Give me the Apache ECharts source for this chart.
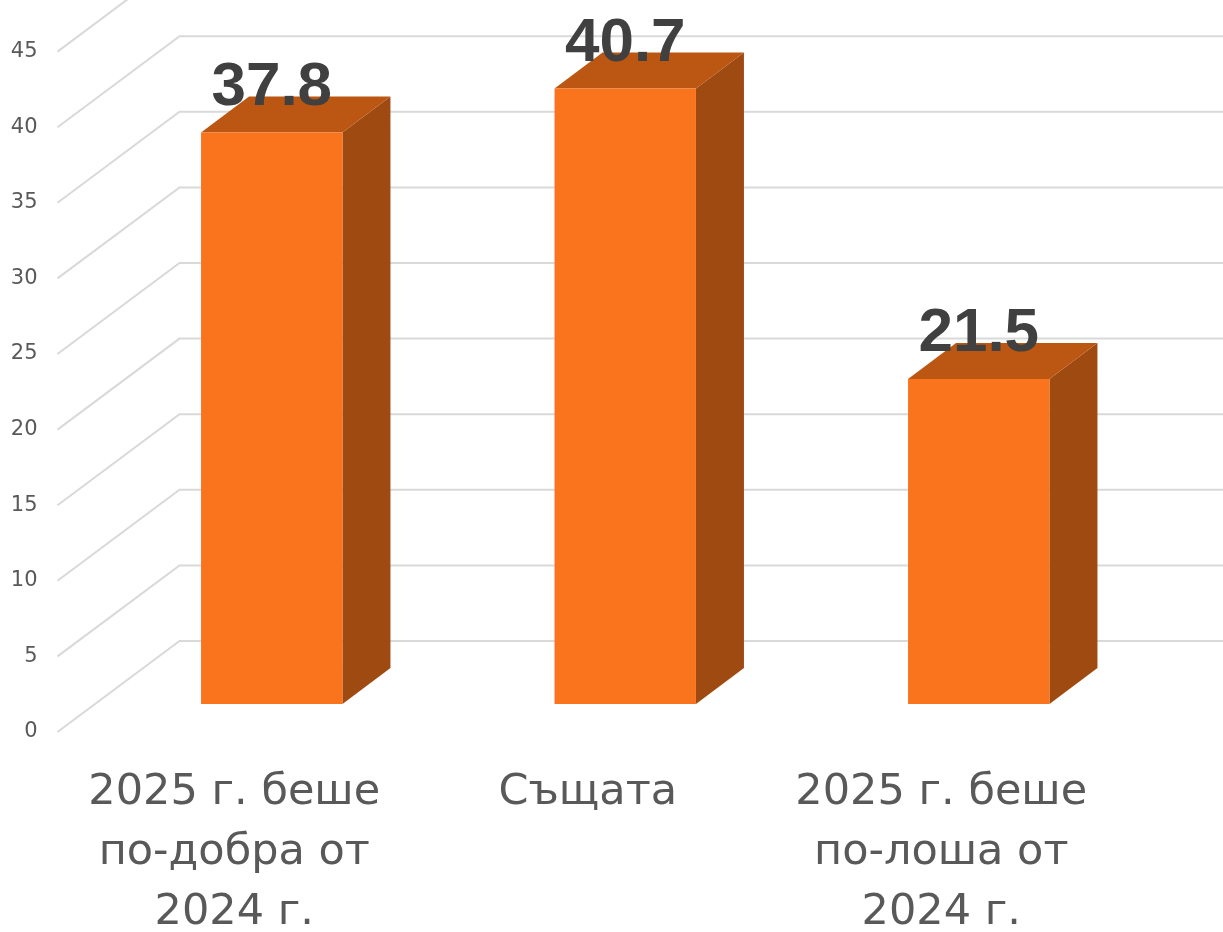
<!DOCTYPE html>
<html>
<head>
<meta charset="utf-8">
<script src="https://cdn.jsdelivr.net/npm/echarts@6/dist/echarts.min.js"></script>
<style>
html,body{margin:0;padding:0;background:#fff;overflow:hidden;}
#chart{width:1223px;height:932px;}
</style>
</head>
<body>
<div id="chart"></div>
<script>
var categories = ['2025 г. беше\nпо-добра от\n2024 г.', 'Същата', '2025 г. беше\nпо-лоша от\n2024 г.'];
var values = [37.8, 40.7, 21.5];
var yTicks = [0, 5, 10, 15, 20, 25, 30, 35, 40, 45];

var WALL_DX = 122, WALL_DY = -91;   // back wall offset from the front plane
var BAR_DX = 37.5, BAR_DY = -28;    // bar front face offset from front plane
var DEPTH_DX = 48, DEPTH_DY = -36;  // bar depth

var chart = echarts.init(document.getElementById('chart'), null, {renderer: 'canvas', width: 1223, height: 932});

var option = {
  animation: false,
  backgroundColor: '#ffffff',
  grid: {left: 57.5, right: 105, top: 51.6, bottom: 200, containLabel: false, outerBoundsMode: 'none'},
  xAxis: {
    type: 'category',
    data: categories,
    axisLine: {show: false},
    axisTick: {show: false},
    splitLine: {show: false},
    axisLabel: {
      interval: 0,
      margin: 31,
      color: '#595959',
      fontFamily: 'DejaVu Sans',
      fontSize: 43,
      lineHeight: 60,
      verticalAlign: 'top'
    }
  },
  yAxis: {
    type: 'value',
    min: 0,
    max: 45,
    interval: 5,
    axisLine: {show: false},
    axisTick: {show: false},
    splitLine: {show: false},
    axisLabel: {
      margin: 20,
      color: '#595959',
      fontFamily: 'DejaVu Sans',
      fontSize: 21
    }
  },
  series: [
    {
      type: 'custom',
      z: 1,
      silent: true,
      data: yTicks.map(function (v) { return [0, v]; }),
      renderItem: function (params, api) {
        var x0 = params.coordSys.x;
        var y = api.coord([0, api.value(1)])[1];
        return {
          type: 'polyline',
          shape: {points: [[x0, y], [x0 + WALL_DX, y + WALL_DY], [api.getWidth(), y + WALL_DY]]},
          style: {stroke: '#d9d9d9', lineWidth: 2, fill: null}
        };
      }
    },
    {
      type: 'custom',
      z: 2,
      data: values.map(function (v, i) { return [i, v]; }),
      renderItem: function (params, api) {
        var i = api.value(0), v = api.value(1);
        var base = api.coord([i, 0]);
        var top = api.coord([i, v]);
        var w = api.size([1, 0])[0] * 0.4;
        var fx = base[0] + BAR_DX - w / 2;
        var ft = top[1] + BAR_DY;
        var fb = base[1] + BAR_DY;
        return {
          type: 'group',
          children: [
            {
              type: 'polygon',
              shape: {points: [[fx + w, ft], [fx + w + DEPTH_DX, ft + DEPTH_DY], [fx + w + DEPTH_DX, fb + DEPTH_DY], [fx + w, fb]]},
              style: {fill: '#9E4A11'}
            },
            {
              type: 'polygon',
              shape: {points: [[fx, ft], [fx + DEPTH_DX, ft + DEPTH_DY], [fx + w + DEPTH_DX, ft + DEPTH_DY], [fx + w, ft]]},
              style: {fill: '#BB5712'}
            },
            {
              type: 'rect',
              shape: {x: fx, y: ft, width: w, height: fb - ft},
              style: {fill: '#F9741C'}
            },
            {
              type: 'text',
              x: fx + w / 2,
              y: ft - 45,
              style: {
                text: String(v),
                fill: '#404040',
                font: 'bold 62px "Liberation Sans", Arial, sans-serif',
                textAlign: 'center',
                textVerticalAlign: 'middle'
              }
            }
          ]
        };
      }
    }
  ]
};
chart.setOption(option);
</script>
</body>
</html>
